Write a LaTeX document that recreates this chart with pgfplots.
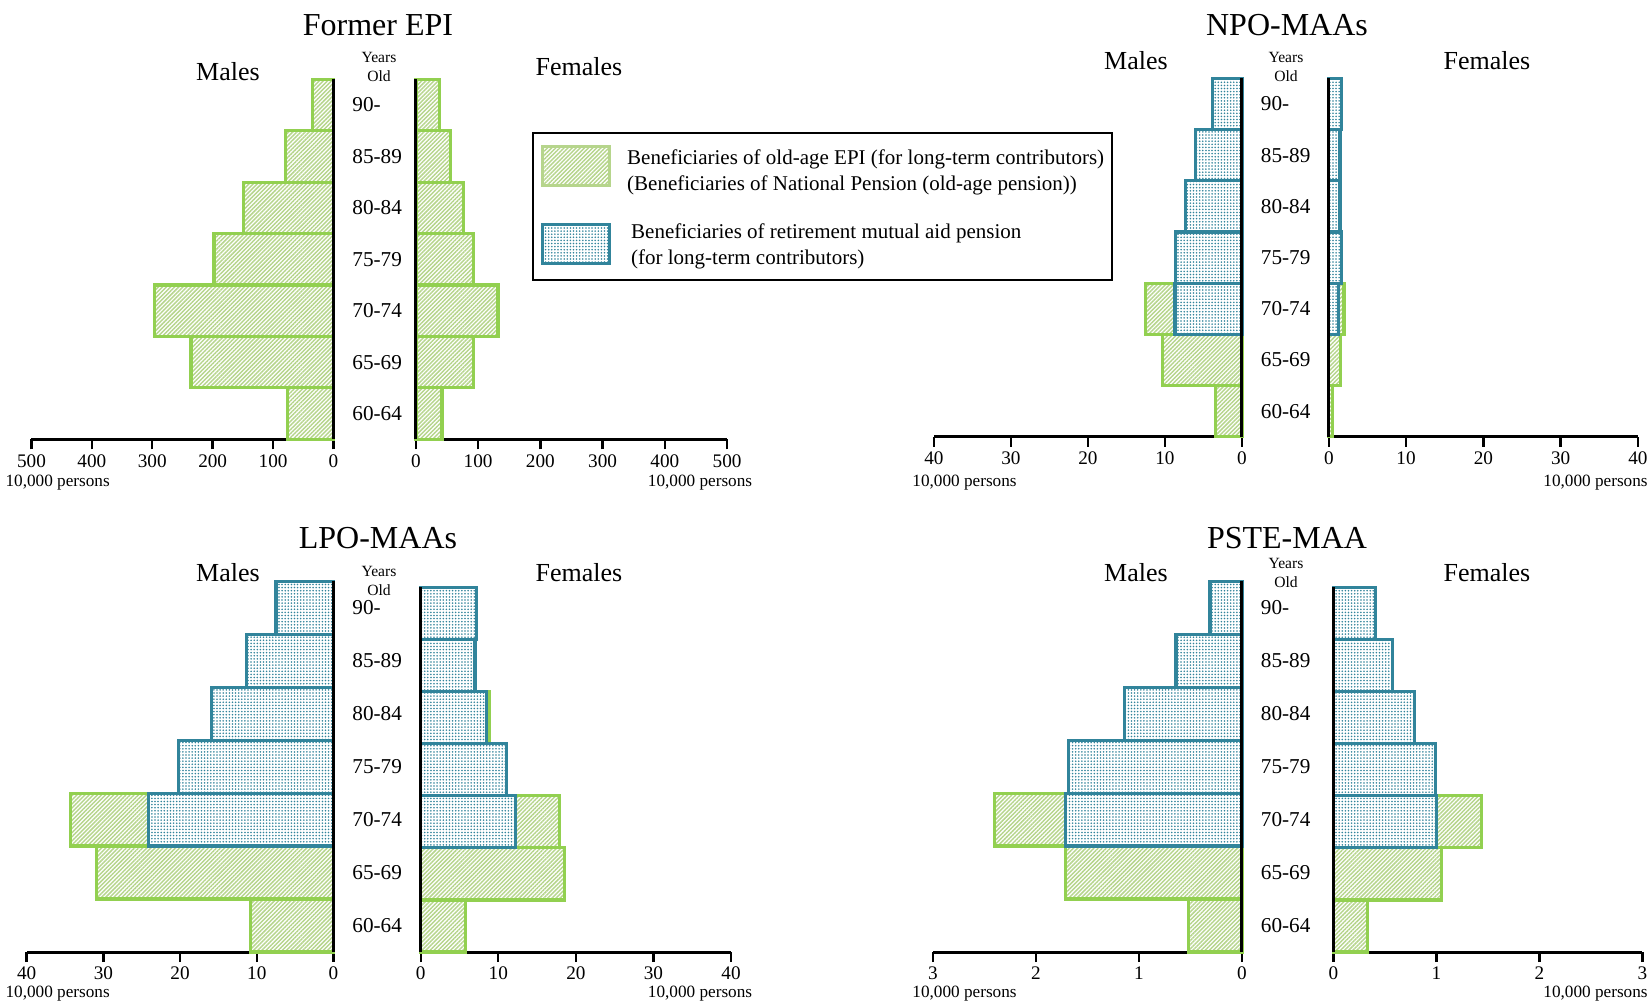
\documentclass[border=0pt]{standalone}
\usepackage{fontspec}
\setmainfont{Liberation Serif}
\usepackage{pgfplots}
\pgfplotsset{compat=1.18}
\usetikzlibrary{patterns.meta}
\definecolor{gline}{RGB}{146,208,80}
\definecolor{ghatch}{RGB}{182,213,140}
\definecolor{bline}{RGB}{49,132,155}
\tikzset{
 greenbar/.style={draw=gline, line width=1.6pt, preaction={fill=white}, pattern={Lines[angle=45,distance=1.45pt,line width=0.72pt]}, pattern color=ghatch},
 bluebar/.style={draw=bline, line width=1.6pt, preaction={fill=white}, pattern={Dots[distance=1.55pt,radius=0.44pt]}, pattern color=bline},
}
\pgfplotsset{
 pyr/.style={
   scale only axis,
   xbar, bar width=1, bar shift=0pt,
   ymin=-0.5, ymax=6.5, xmin=0, enlargelimits=false,
   axis x line*=bottom, axis y line=none,
   x axis line style={line width=1.5pt, -},
   tick align=outside,
   xtick style={line width=1.2pt, black},
   major tick length=5pt,
   ytick=\empty,
   xticklabel style={font=\fontsize{9.6}{11}\selectfont, yshift=1pt},
   /pgf/number format/assume math mode=true,
   clip=false,
 },
}
\newcommand{\zline}{\draw[line width=1.5pt] (axis cs:0,-0.5) -- (axis cs:0,6.5);}
\begin{document}
\begin{tikzpicture}
\useasboundingbox (0,0) rectangle (824pt,501.5pt);
% ---------------- Panel 1: Former EPI ----------------
\begin{axis}[pyr, x dir=reverse, at={(15.75pt,281.85pt)}, anchor=south west,
  width=151pt, height=180pt, xmax=500, xtick={0,100,...,500}]
\addplot[greenbar] coordinates {(76,0) (236,1) (296,2) (198,3) (149,4) (79,5) (35,6)};
\zline
\end{axis}
\begin{axis}[pyr, at={(207.95pt,281.85pt)}, anchor=south west,
  width=155.6pt, height=180pt, xmax=500, xtick={0,100,...,500},
  legend style={at={(0.373,0.8536)}, anchor=north west, draw=black, line width=1pt,
    inner xsep=4pt, inner ysep=6pt, row sep=15pt,
    font=\fontsize{10.5}{13}\selectfont,
    /tikz/every odd column/.append style={column sep=8pt},
    nodes={inner sep=0pt, align=left}},
  legend cell align=left]
\addplot[greenbar, forget plot] coordinates {(42,0) (93,1) (132,2) (92,3) (77,4) (56,5) (38,6)};
\zline
\addlegendimage{legend image code/.code={\draw[line width=1.4pt, draw=ghatch, pattern={Lines[angle=45,distance=1.45pt,line width=0.72pt]}, pattern color=ghatch] (0pt,-7pt) rectangle (33.5pt,12.5pt);}}
\addlegendentry{Beneficiaries of old-age EPI (for long-term contributors)\\(Beneficiaries of National Pension (old-age pension))}
\addlegendimage{legend image code/.code={\draw[line width=1.6pt, draw=bline, pattern={Dots[distance=1.55pt,radius=0.44pt]}, pattern color=bline] (0pt,-9pt) rectangle (33.5pt,10.5pt);}}
\addlegendentry{\hspace*{2pt}Beneficiaries of retirement mutual aid pension\\\hspace*{2pt}(for long-term contributors)}
\end{axis}
% ---------------- Panel 2: NPO-MAAs ----------------
\begin{axis}[pyr, x dir=reverse, at={(466.95pt,283.15pt)}, anchor=south west,
  width=154pt, height=179.2pt, xmax=40, xtick={0,10,...,40}]
\addplot[greenbar] coordinates {(3.4,0) (10.3,1) (12.5,2)};
\addplot[bluebar] coordinates {(8.7,2) (8.6,3) (7.3,4) (6.0,5) (3.8,6)};
\zline
\end{axis}
\begin{axis}[pyr, at={(664.4pt,283.15pt)}, anchor=south west,
  width=154.55pt, height=179.2pt, xmax=40, xtick={0,10,...,40}]
\addplot[greenbar] coordinates {(0.45,0) (1.52,1) (1.97,2)};
\addplot[bluebar] coordinates {(1.3,2) (1.66,3) (1.45,4) (1.45,5) (1.66,6)};
\zline
\end{axis}
% ---------------- Panel 3: LPO-MAAs ----------------
\begin{axis}[pyr, x dir=reverse, at={(13.35pt,25.5pt)}, anchor=south west,
  width=153.4pt, height=185.35pt, xmax=40, xtick={0,10,...,40}]
\addplot[greenbar] coordinates {(10.8,0) (30.9,1) (34.3,2)};
\addplot[bluebar] coordinates {(24.1,2) (20.2,3) (15.9,4) (11.3,5) (7.5,6)};
\zline
\end{axis}
\begin{axis}[pyr, at={(210.35pt,25.5pt)}, anchor=south west,
  width=155.15pt, height=182.35pt, xmax=40, xtick={0,10,...,40}]
\addplot[greenbar] coordinates {(5.8,0) (18.5,1) (17.9,2) (8.8,4)};
\addplot[bluebar] coordinates {(12.2,2) (11.1,3) (8.5,4) (7.0,5) (7.2,6)};
\zline
\end{axis}
% ---------------- Panel 4: PSTE-MAA ----------------
\begin{axis}[pyr, x dir=reverse, at={(466.45pt,25.5pt)}, anchor=south west,
  width=154.5pt, height=185.35pt, xmax=3, xtick={0,1,2,3}]
\addplot[greenbar] coordinates {(0.52,0) (1.71,1) (2.40,2)};
\addplot[bluebar] coordinates {(1.71,2) (1.68,3) (1.14,4) (0.64,5) (0.31,6)};
\zline
\end{axis}
\begin{axis}[pyr, at={(666.7pt,25.5pt)}, anchor=south west,
  width=154.5pt, height=182.35pt, xmax=3, xtick={0,1,2,3}]
\addplot[greenbar] coordinates {(0.33,0) (1.05,1) (1.44,2)};
\addplot[bluebar] coordinates {(1.0,2) (0.99,3) (0.79,4) (0.575,5) (0.41,6)};
\zline
\end{axis}
% ---------------- Texts ----------------
\tikzset{ttl/.style={font=\fontsize{16}{19}\selectfont},
  sex/.style={font=\fontsize{13}{15}\selectfont},
  yo/.style={font=\fontsize{7.8}{9.5}\selectfont, align=center},
  pers/.style={font=\fontsize{8.6}{10}\selectfont},
  age/.style={font=\fontsize{10.6}{12}\selectfont, anchor=west, inner sep=0pt}}
\node[ttl] at (189pt,489pt) {Former EPI};
\node[ttl] at (643.5pt,489pt) {NPO-MAAs};
\node[ttl] at (189pt,232.5pt) {LPO-MAAs};
\node[ttl] at (643.5pt,232.5pt) {PSTE-MAA};
\node[sex] at (114pt,465.5pt) {Males};
\node[sex] at (289.5pt,468pt) {Females};
\node[sex] at (568pt,471pt) {Males};
\node[sex] at (743.5pt,471pt) {Females};
\node[sex] at (114pt,215pt) {Males};
\node[sex] at (289.5pt,215pt) {Females};
\node[sex] at (568pt,215pt) {Males};
\node[sex] at (743.5pt,215pt) {Females};
\node[yo] at (189.5pt,468.25pt) {Years\\Old};
\node[yo] at (643pt,468.25pt) {Years\\Old};
\node[yo] at (189.5pt,211.25pt) {Years\\Old};
\node[yo] at (643pt,215pt) {Years\\Old};
\node[pers] at (28.85pt,260pt) {10,000 persons};
\node[pers] at (350pt,260pt) {10,000 persons};
\node[pers] at (482.25pt,260pt) {10,000 persons};
\node[pers] at (797.75pt,260pt) {10,000 persons};
\node[pers] at (28.85pt,4.5pt) {10,000 persons};
\node[pers] at (350pt,4.5pt) {10,000 persons};
\node[pers] at (482.25pt,4.5pt) {10,000 persons};
\node[pers] at (797.75pt,4.5pt) {10,000 persons};
\foreach \lab [count=\i from 0] in {60-64,65-69,70-74,75-79,80-84,85-89,90-} {
  \node[age] at ({176pt},{(281.85+25.715*(\i+0.5))*1pt}) {\lab};
  \node[age] at ({630.25pt},{(283.15+25.6*(\i+0.5))*1pt}) {\lab};
  \node[age] at ({176pt},{(25.5+26.48*(\i+0.5))*1pt}) {\lab};
  \node[age] at ({630.25pt},{(25.5+26.48*(\i+0.5))*1pt}) {\lab};
}
\end{tikzpicture}
\end{document}
